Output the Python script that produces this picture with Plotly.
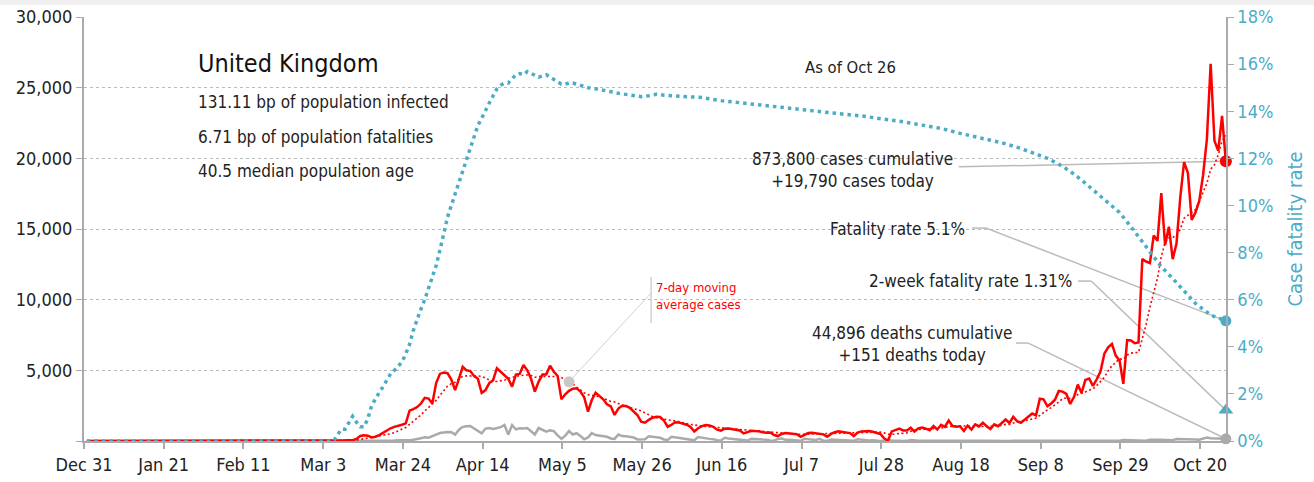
import pandas as pd
import plotly.graph_objects as go

# ---------------- data (chart dates, Dec 31 2019 .. Oct 26 2020) ----------------
cases_dec = [0]
cases_jan = [0, 0, 0, 0, 0, 0, 0, 0, 0, 0, 0, 0, 0, 0, 0, 0, 0, 0, 0, 0, 0, 0, 0, 0, 0, 0, 0, 0, 0, 0, 0]
cases_feb = [2, 0, 0, 0, 0, 0, 1, 0, 0, 4, 1, 0, 1, 0, 0, 0, 0, 0, 0, 0, 0, 0, 0, 0, 4, 0, 2, 5, 3]
cases_mar = [5, 10, 5, 15, 30, 30, 45, 50, 60, 55, 150, 360, 400, 380, 250, 300, 420, 600, 720, 900,
             1000, 1050, 1150, 1250, 2150, 2250, 2400, 2650, 3050, 3000, 2650]
cases_apr = [4100, 4750, 4850, 4800, 4350, 3600, 4400, 5250, 5000, 4950, 4600, 4400, 3400, 3600, 4100,
             4300, 5150, 4900, 4650, 4400, 3840, 4700, 4750, 5380, 5000, 4400, 3500, 4200, 4700, 4700]
cases_may = [5330, 4900, 4600, 2950, 3300, 3550, 3700, 3730, 3500, 3100, 2075, 2900, 3420, 3200, 2950,
             2600, 2450, 1840, 2300, 2500, 2480, 2350, 2100, 1840, 1370, 1300, 1500, 1650, 1720, 1700, 1450]
cases_jun = [1010, 1150, 1330, 1300, 1250, 1150, 1000, 680, 900, 1050, 1130, 1100, 1000, 800, 730,
             870, 880, 850, 820, 750, 540, 650, 720, 700, 690, 620, 580, 600, 420, 350]
cases_jul = [500, 560, 540, 530, 480, 300, 450, 560, 580, 540, 520, 470, 300, 500, 620, 680, 640, 600,
             560, 350, 600, 680, 700, 700, 650, 600, 500, 190, 20, 680, 780]
cases_aug = [880, 744, 743, 938, 670, 892, 950, 871, 758, 1062, 816, 1148, 1009, 1441, 1062, 1012, 1040,
             713, 1089, 812, 1182, 1033, 1288, 1041, 853, 1184, 1048, 1276, 1522, 1276, 1715]
cases_sep = [1406, 1295, 1508, 1735, 1940, 1813, 2988, 2948, 2460, 2659, 2919, 3539, 3497, 3330, 2621,
             3105, 3991, 3395, 4322, 4422, 3899, 4368, 4926, 6178, 6634, 6874, 6042, 5693, 4044, 7143]
cases_oct = [7108, 6914, 6968, 12872, 12700, 12594, 14542, 14162, 17540, 13864, 15166, 12872, 13972,
             17234, 19724, 18980, 15650, 16171, 16982, 18804, 21331, 26688, 21242, 20530, 23012, 19790]

deaths_dec = [0]
deaths_jan = [0, 0, 0, 0, 0, 0, 0, 0, 0, 0, 0, 0, 0, 0, 0, 0, 0, 0, 0, 0, 0, 0, 0, 0, 0, 0, 0, 0, 0, 0, 0]
deaths_feb = [0, 0, 0, 0, 0, 0, 0, 0, 0, 0, 0, 0, 0, 0, 0, 0, 0, 0, 0, 0, 0, 0, 0, 0, 0, 0, 0, 0, 0]
deaths_mar = [0, 0, 0, 0, 0, 1, 0, 1, 0, 2, 2, 1, 2, 1, 10, 14, 20, 16, 33, 40, 33, 56, 48, 54, 60,
              90, 120, 200, 260, 230, 350]
deaths_apr = [470, 560, 600, 640, 620, 450, 800, 1000, 1050, 1060, 880, 700, 540, 880, 920, 850, 900,
              980, 1130, 450, 1130, 820, 900, 880, 920, 700, 460, 920, 780, 660]
deaths_may = [750, 700, 400, 150, 380, 700, 460, 550, 350, 120, 250, 560, 420, 380, 350, 300, 180, 150,
              460, 350, 330, 300, 250, 110, 120, 130, 330, 300, 280, 230, 110]
deaths_jun = [80, 300, 250, 200, 180, 150, 60, 50, 280, 220, 170, 150, 130, 50, 40, 230, 180, 150, 130,
              100, 40, 30, 150, 150, 130, 100, 90, 30, 25, 150]
deaths_jul = [170, 90, 80, 60, 20, 15, 150, 110, 85, 70, 150, 20, 10, 100, 80, 60, 50, 40, 10, 10, 120,
              80, 60, 40, 50, 10, 0, 30, 90, 40, 50]
deaths_aug = [20, 5, 10, 70, 20, 20, 20, 10, 10, 5, 20, 10, 10, 10, 5, 5, 10, 15, 20, 15, 10, 5, 10, 20,
              10, 5, 15, 10, 10, 5, 10]
deaths_sep = [10, 5, 3, 10, 15, 10, 5, 5, 30, 10, 15, 10, 10, 5, 10, 30, 20, 20, 30, 10, 20, 10, 40, 40,
              50, 40, 20, 15, 70, 60]
deaths_oct = [70, 60, 70, 30, 20, 80, 60, 80, 90, 80, 60, 60, 140, 140, 140, 140, 150, 100, 90, 140, 240,
              190, 190, 170, 150, 151]

cfr_dates = ["2019-12-31", "2020-03-05", "2020-03-06", "2020-03-07", "2020-03-08", "2020-03-09",
             "2020-03-10", "2020-03-11", "2020-03-12", "2020-03-13", "2020-03-14", "2020-03-15",
             "2020-03-16", "2020-03-17", "2020-03-18", "2020-03-19", "2020-03-20", "2020-03-21",
             "2020-03-22", "2020-03-23", "2020-03-24", "2020-03-25", "2020-03-26", "2020-03-27",
             "2020-03-28", "2020-03-29", "2020-03-30", "2020-03-31", "2020-04-01", "2020-04-02",
             "2020-04-03", "2020-04-04", "2020-04-05", "2020-04-06", "2020-04-07", "2020-04-08",
             "2020-04-09", "2020-04-10", "2020-04-11", "2020-04-12", "2020-04-13", "2020-04-14",
             "2020-04-15", "2020-04-16", "2020-04-17", "2020-04-18", "2020-04-19", "2020-04-20",
             "2020-04-21", "2020-04-22", "2020-04-23", "2020-04-24", "2020-04-25", "2020-04-26",
             "2020-04-27", "2020-04-28", "2020-04-29", "2020-04-30", "2020-05-01", "2020-05-02",
             "2020-05-03", "2020-05-04", "2020-05-05", "2020-05-06", "2020-05-07", "2020-05-08",
             "2020-05-09", "2020-05-10", "2020-05-11", "2020-05-13", "2020-05-15", "2020-05-17",
             "2020-05-19", "2020-05-21", "2020-05-23", "2020-05-25", "2020-05-27", "2020-05-29",
             "2020-05-31", "2020-06-04", "2020-06-10", "2020-06-15", "2020-06-20", "2020-06-25",
             "2020-07-01", "2020-07-06", "2020-07-11", "2020-07-17", "2020-07-22", "2020-07-27",
             "2020-08-02", "2020-08-07", "2020-08-12", "2020-08-17", "2020-08-23", "2020-08-28",
             "2020-09-02", "2020-09-06", "2020-09-09", "2020-09-12", "2020-09-15", "2020-09-18",
             "2020-09-22", "2020-09-25", "2020-09-28", "2020-10-01", "2020-10-05", "2020-10-09",
             "2020-10-12", "2020-10-14", "2020-10-18", "2020-10-22", "2020-10-26"]
cfr_values = [0, 0, 0.25, 0.5, 0.5, 0.8, 1.05, 0.8, 0.6, 0.6, 0.95, 1.5, 1.8, 2.05, 2.3, 2.6, 2.85,
              3.0, 3.15, 3.35, 3.7, 4.1, 4.7, 5.2, 5.6, 6.0, 6.5, 7.0, 7.45, 8.1, 8.8, 9.5, 10.0, 10.5,
              10.9, 11.4, 11.9, 12.5, 13.0, 13.4, 13.7, 14.05, 14.35, 14.65, 14.95, 15.1, 15.2, 15.2,
              15.4, 15.55, 15.6, 15.55, 15.68, 15.6, 15.5, 15.45, 15.5, 15.55, 15.45, 15.35, 15.25,
              15.15, 15.15, 15.2, 15.2, 15.15, 15.1, 15.05, 15.0, 14.95, 14.9, 14.83, 14.76, 14.72,
              14.65, 14.62, 14.66, 14.72, 14.68, 14.64, 14.58, 14.45, 14.36, 14.26, 14.16, 14.05,
              13.98, 13.88, 13.8, 13.7, 13.55, 13.41, 13.27, 13.06, 12.84, 12.66, 12.42, 12.2, 12.0,
              11.75, 11.45, 11.08, 10.51, 10.1, 9.7, 9.1, 8.25, 7.4, 6.9, 6.55, 5.84, 5.35, 5.1]

two_week_cfr = 1.31
ma_label_index = 127

tick_labels = ["Dec 31", "Jan 21", "Feb 11", "Mar 3", "Mar 24", "Apr 14", "May 5", "May 26", "Jun 16",
               "Jul 7", "Jul 28", "Aug 18", "Sep 8", "Sep 29", "Oct 20"]
left_ticks = [0, 5000, 10000, 15000, 20000, 25000, 30000]
left_labels = ["", "5,000", "10,000", "15,000", "20,000", "25,000", "30,000"]
right_ticks = [0, 2, 4, 6, 8, 10, 12, 14, 16, 18]
right_labels = ["0%", "2%", "4%", "6%", "8%", "10%", "12%", "14%", "16%", "18%"]

# ---------------- build ----------------
cases = (cases_dec + cases_jan + cases_feb + cases_mar + cases_apr + cases_may + cases_jun +
         cases_jul + cases_aug + cases_sep + cases_oct)
deaths = (deaths_dec + deaths_jan + deaths_feb + deaths_mar + deaths_apr + deaths_may + deaths_jun +
          deaths_jul + deaths_aug + deaths_sep + deaths_oct)
offset = pd.Timedelta(hours=18)
dates = pd.date_range("2019-12-31", periods=len(cases), freq="D") + offset
ma7 = pd.Series(cases).rolling(7, min_periods=1).mean().tolist()
cfr_x = pd.to_datetime(cfr_dates) + offset
tick_vals = pd.date_range("2019-12-31", periods=len(tick_labels), freq="21D")

Y_MAX, Y2_MAX = 30000, 18
k2 = Y_MAX / Y2_MAX  # right-axis units -> left-axis units (for connector shapes)

last_x = dates[-1]
RED = "#ff0000"
TEAL = "#4bacc6"
GRAY = "#aaaaaa"
FONT = "Liberation Sans Narrow, DejaVu Sans Condensed, Arial Narrow, sans-serif"
TXT = "#222222"

W, H = 1314, 482
L, R, T, B = 84, 88, 17, 41
PW, PH = W - L - R, H - T - B


def px(x):
    return (x - L) / PW


def py(y):
    return (H - B - y) / PH


fig = go.Figure()
fig.add_trace(go.Scatter(x=cfr_x, y=cfr_values, yaxis="y2", mode="lines",
                         line=dict(color=TEAL, width=3.5, dash="3.5px,4px")))
fig.add_trace(go.Scatter(x=dates, y=deaths, mode="lines", line=dict(color=GRAY, width=2.5)))
fig.add_trace(go.Scatter(x=dates, y=ma7, mode="lines", line=dict(color=RED, width=1.6, dash="2px,2.5px")))
fig.add_trace(go.Scatter(x=dates, y=cases, mode="lines", line=dict(color=RED, width=2.5)))
fig.add_trace(go.Scatter(x=[last_x], y=[cases[-1]], mode="markers", cliponaxis=False,
                         marker=dict(color=RED, size=12)))
fig.add_trace(go.Scatter(x=[last_x], y=[deaths[-1]], mode="markers", cliponaxis=False,
                         marker=dict(color=GRAY, size=11)))
fig.add_trace(go.Scatter(x=[last_x], y=[cfr_values[-1]], yaxis="y2", mode="markers", cliponaxis=False,
                         marker=dict(color=TEAL, size=11)))
fig.add_trace(go.Scatter(x=[last_x], y=[two_week_cfr], yaxis="y2", mode="markers", cliponaxis=False,
                         marker=dict(color=TEAL, size=13, symbol="triangle-up")))
fig.add_trace(go.Scatter(x=[dates[ma_label_index]], y=[ma7[ma_label_index]], mode="markers",
                         marker=dict(color="#c8c8c8", size=11)))

shapes = []


def seg(x0, y0, x1, y1, color="#bbbbbb", width=1.5):
    shapes.append(dict(type="line", xref="x", yref="y", x0=x0, y0=y0, x1=x1, y1=y1,
                       line=dict(color=color, width=width), layer="between"))


# connectors (text side given in axis units)
seg("2020-08-17 10:00", 19400, last_x, cases[-1])
seg("2020-08-20 22:00", 9.04 * k2, "2020-08-24 14:00", 9.04 * k2)
seg("2020-08-24 14:00", 9.04 * k2, last_x, cfr_values[-1] * k2)
seg("2020-09-17 20:00", 6.79 * k2, "2020-09-21 07:00", 6.79 * k2)
seg("2020-09-21 07:00", 6.79 * k2, last_x, two_week_cfr * k2)
seg("2020-09-01 12:00", 6930, "2020-09-04 17:00", 6930)
seg("2020-09-04 17:00", 6930, last_x, deaths[-1])
seg(dates[ma_label_index], ma7[ma_label_index], "2020-05-28 09:00", 10470, color="#d0d0d0", width=1)
seg("2020-05-28 09:00", 11600, "2020-05-28 09:00", 8350, color="#d0d0d0", width=1.5)

# top grey band
shapes.append(dict(type="rect", xref="paper", yref="paper", x0=px(0), x1=px(W), y0=py(5), y1=py(0),
                   fillcolor="#f0f0f0", line=dict(width=0), layer="above"))


def note(text, x, y, size=17, color=TXT, xanchor="center", align="center"):
    return dict(text=text, x=px(x), y=py(y), xref="paper", yref="paper", showarrow=False,
                xanchor=xanchor, yanchor="middle", align=align,
                font=dict(family=FONT, size=size, color=color))


annotations = [
    note("United Kingdom", 196, 63, size=25, color="#111111", xanchor="left", align="left"),
    note("131.11 bp of population infected", 196, 102, xanchor="left", align="left"),
    note("6.71 bp of population fatalities", 196, 137, xanchor="left", align="left"),
    note("40.5 median population age", 196, 171, xanchor="left", align="left"),
    note("As of Oct 26", 850, 68, size=16.5),
    note("873,800 cases cumulative<br>+19,790 cases today", 852, 170),
    note("Fatality rate 5.1%", 967, 229, xanchor="right", align="right"),
    note("2-week fatality rate 1.31%", 1074, 281, xanchor="right", align="right"),
    note("44,896 deaths cumulative<br>+151 deaths today", 912, 344),
    note("7-day moving<br>average cases", 654, 296, size=13, color=RED, xanchor="left", align="left"),
]

fig.update_layout(
    width=W, height=H, margin=dict(l=L, r=R, t=T, b=B, autoexpand=False),
    paper_bgcolor="white", plot_bgcolor="white", showlegend=False,
    font=dict(family=FONT, color="#333333", size=18),
    shapes=shapes, annotations=annotations,
    xaxis=dict(type="date", range=["2019-12-31", "2020-10-26 19:00"], tickvals=tick_vals,
               ticktext=tick_labels, showgrid=False, showline=True, linecolor="#aaaaaa", linewidth=2,
               ticks="outside", ticklen=6, tickcolor="#aaaaaa", tickwidth=1.5, automargin=False,
               tickfont=dict(family=FONT, size=18, color="#222222"), zeroline=False),
    yaxis=dict(range=[0, Y_MAX], tickvals=left_ticks, ticktext=left_labels, showgrid=True,
               gridcolor="#bbbbbb", griddash="dot", gridwidth=1, showline=True, linecolor="#aaaaaa",
               linewidth=2, ticks="outside", ticklen=6, tickcolor="#aaaaaa", zeroline=False,
               automargin=False, tickfont=dict(family=FONT, size=18, color="#222222")),
    yaxis2=dict(overlaying="y", side="right", range=[0, Y2_MAX], tickvals=right_ticks,
                ticktext=right_labels, showgrid=False, showline=True, linecolor="#aaaaaa",
                linewidth=1.5, ticks="outside", ticklen=6, tickcolor="#aaaaaa", zeroline=False,
                automargin=False, tickfont=dict(family=FONT, size=18, color=TEAL),
                title=dict(text="Case fatality rate", standoff=16,
                           font=dict(family=FONT, size=20, color=TEAL))),
)

fig.write_html("out.html", config={"displayModeBar": False},
               post_script="document.body.style.margin='0';document.body.style.padding='0';")
